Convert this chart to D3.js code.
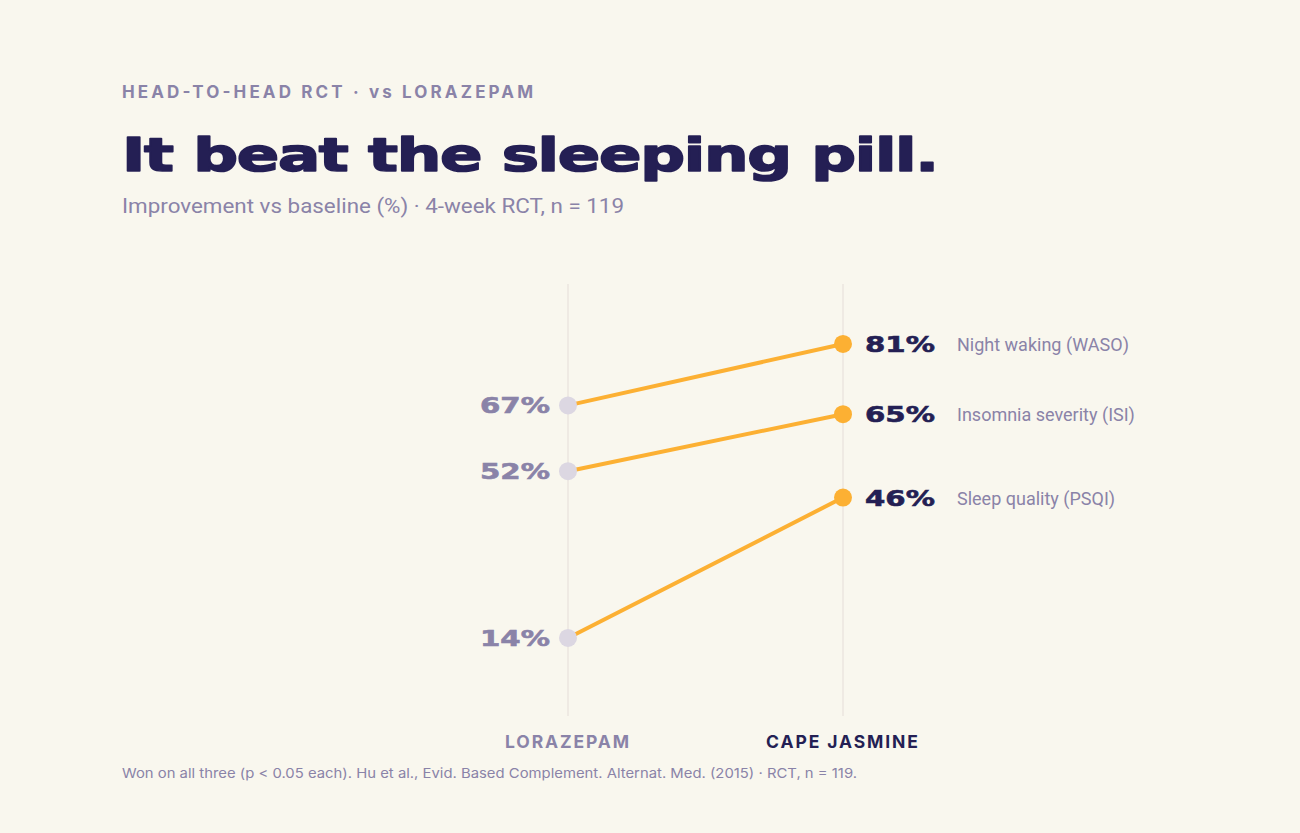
<!DOCTYPE html>
<html>
<head>
<meta charset="utf-8">
<script src="https://cdn.jsdelivr.net/npm/d3@7"></script>
<style>
  html, body { margin: 0; padding: 0; background: #f9f7ee; }
  svg { display: block; }
</style>
</head>
<body>
<div id="chart"></div>
<script>
// Data
const groups = ["LORAZEPAM", "CAPE JASMINE"];
const measures = ["Night waking (WASO)", "Insomnia severity (ISI)", "Sleep quality (PSQI)"];
const lorazepam = [67, 52, 14];
const capeJasmine = [81, 65, 46];

const width = 1300, height = 833;
const navy = "#241f54", muted = "#8a83a8", orange = "#fcb033", grey = "#dcd7e2";

const svg = d3.select("#chart")
    .append("svg")
    .attr("width", width)
    .attr("height", height);

svg.append("rect").attr("width", width).attr("height", height).attr("fill", "#f9f7ee");

// Scales
const x = d3.scalePoint().domain(groups).range([568, 843]);
const y = d3.scaleLinear().domain([0, 100]).range([699.4, 260.6]);

// Header text
svg.append("text")
    .attr("x", 122).attr("y", 98)
    .attr("font-family", "Inter, 'Noto Sans', sans-serif")
    .attr("font-weight", 700)
    .attr("font-size", 17)
    .attr("textLength", 411)
    .attr("lengthAdjust", "spacing")
    .attr("fill", muted)
    .text("HEAD-TO-HEAD RCT · vs LORAZEPAM");

// Title: stretched wide to mimic the display face
const title = svg.append("text")
    .attr("font-family", "'DejaVu Sans', sans-serif")
    .attr("font-weight", 700)
    .attr("font-size", 47)
    .attr("letter-spacing", -1)
    .attr("fill", navy)
    .attr("stroke", navy)
    .attr("stroke-width", 1.6)
    .attr("stroke-linejoin", "round")
    .text("It beat the sleeping pill.");
const tw = title.node().getComputedTextLength();
title.attr("transform", `translate(122,171) scale(${816 / tw},1)`);

svg.append("text")
    .attr("x", 122).attr("y", 213)
    .attr("font-family", "'Roboto', 'Liberation Sans', sans-serif")
    .attr("font-size", 20.5)
    .attr("textLength", 502)
    .attr("lengthAdjust", "spacingAndGlyphs")
    .attr("fill", muted)
    .text("Improvement vs baseline (%) · 4-week RCT, n = 119");

// Vertical guides
svg.selectAll(".guide")
    .data(groups)
    .enter()
    .append("line")
    .attr("class", "guide")
    .attr("x1", d => x(d)).attr("x2", d => x(d))
    .attr("y1", 284).attr("y2", 716)
    .attr("stroke", "#ebe6df")
    .attr("stroke-width", 1.5);

// Slopes
const rows = measures.map((m, i) => ({ name: m, a: lorazepam[i], b: capeJasmine[i] }));

svg.selectAll(".slope")
    .data(rows)
    .enter()
    .append("line")
    .attr("class", "slope")
    .attr("x1", x(groups[0])).attr("y1", d => y(d.a))
    .attr("x2", x(groups[1])).attr("y2", d => y(d.b))
    .attr("stroke", orange)
    .attr("stroke-width", 4)
    .attr("stroke-linecap", "round");

svg.selectAll(".dotA")
    .data(rows)
    .enter()
    .append("circle")
    .attr("cx", x(groups[0])).attr("cy", d => y(d.a))
    .attr("r", 9)
    .attr("fill", grey);

svg.selectAll(".dotB")
    .data(rows)
    .enter()
    .append("circle")
    .attr("cx", x(groups[1])).attr("cy", d => y(d.b))
    .attr("r", 9)
    .attr("fill", orange);

// Value labels (stretched wide)
const stretch = 1.33;
svg.selectAll(".valA")
    .data(rows)
    .enter()
    .append("text")
    .attr("transform", d => `translate(${x(groups[0]) - 18},${y(d.a) + 8}) scale(${stretch},1)`)
    .attr("text-anchor", "end")
    .attr("font-family", "'DejaVu Sans', sans-serif")
    .attr("font-weight", 700)
    .attr("font-size", 22)
    .attr("stroke", muted)
    .attr("stroke-width", 0.6)
    .attr("fill", muted)
    .text(d => d.a + "%");

svg.selectAll(".valB")
    .data(rows)
    .enter()
    .append("text")
    .attr("transform", d => `translate(${x(groups[1]) + 22},${y(d.b) + 8}) scale(${stretch},1)`)
    .attr("font-family", "'DejaVu Sans', sans-serif")
    .attr("font-weight", 700)
    .attr("font-size", 22)
    .attr("stroke", navy)
    .attr("stroke-width", 0.6)
    .attr("fill", navy)
    .text(d => d.b + "%");

svg.selectAll(".measure")
    .data(rows)
    .enter()
    .append("text")
    .attr("x", x(groups[1]) + 114)
    .attr("y", d => y(d.b) + 7)
    .attr("font-family", "'Roboto', 'Liberation Sans', sans-serif")
    .attr("font-size", 18)
    .attr("fill", muted)
    .text(d => d.name);

// Group labels
svg.selectAll(".group")
    .data(groups)
    .enter()
    .append("text")
    .attr("x", d => x(d)).attr("y", 748)
    .attr("text-anchor", "middle")
    .attr("font-family", "Inter, 'Noto Sans', sans-serif")
    .attr("font-weight", 700)
    .attr("font-size", 17.5)
    .attr("letter-spacing", 1.9)
    .attr("fill", (d, i) => i === 0 ? muted : navy)
    .text(d => d);

// Footnote
svg.append("text")
    .attr("x", 122).attr("y", 778)
    .attr("font-family", "Inter, 'Noto Sans', sans-serif")
    .attr("font-size", 13.5)
    .attr("textLength", 735)
    .attr("lengthAdjust", "spacingAndGlyphs")
    .attr("fill", muted)
    .text("Won on all three (p < 0.05 each). Hu et al., Evid. Based Complement. Alternat. Med. (2015) · RCT, n = 119.");
</script>
</body>
</html>
